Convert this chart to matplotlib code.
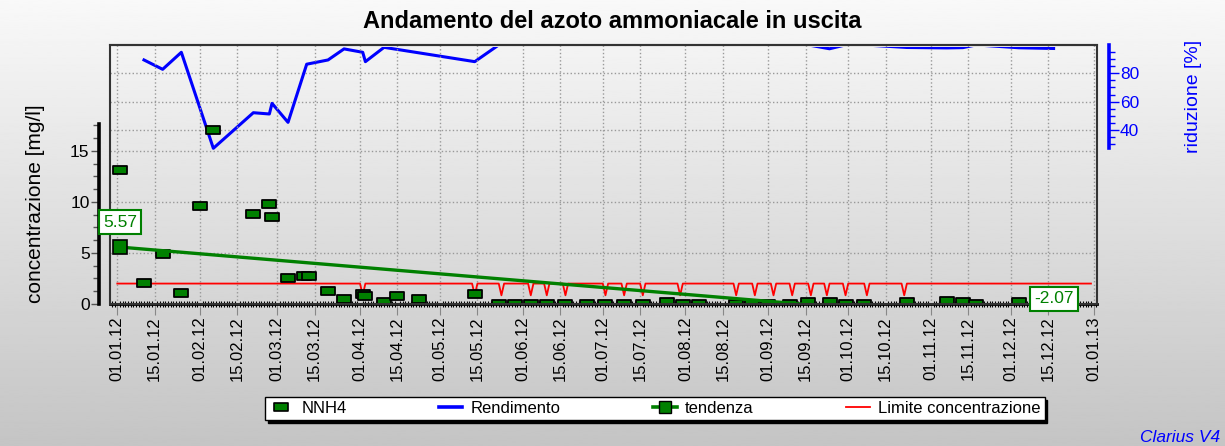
import numpy as np
import pandas as pd
import matplotlib
matplotlib.use("Agg")
import matplotlib.pyplot as plt
import matplotlib.dates as mdates
from matplotlib.path import Path
from matplotlib.patches import Rectangle
from matplotlib.lines import Line2D
from matplotlib.ticker import FixedLocator

# NNH4 outlet concentration [mg/l]
nnh4_dates = ["2012-01-02", "2012-01-11", "2012-01-18", "2012-01-25", "2012-02-01",
              "2012-02-06", "2012-02-21", "2012-02-27", "2012-02-28", "2012-03-05",
              "2012-03-11", "2012-03-13", "2012-03-20", "2012-03-26", "2012-04-02",
              "2012-04-03", "2012-04-10", "2012-04-15", "2012-04-23", "2012-05-14",
              "2012-05-23", "2012-05-29", "2012-06-04", "2012-06-10", "2012-06-17",
              "2012-06-25", "2012-07-02", "2012-07-09", "2012-07-16", "2012-07-25",
              "2012-07-31", "2012-08-06", "2012-08-20", "2012-08-26", "2012-09-01",
              "2012-09-09", "2012-09-16", "2012-09-24", "2012-09-30", "2012-10-07",
              "2012-10-23", "2012-11-07", "2012-11-13", "2012-11-18", "2012-12-04",
              "2012-12-17"]
nnh4_values = [13.1, 2.1, 4.85, 1.1, 9.6,
               17.0, 8.8, 9.75, 8.55, 2.57,
               2.74, 2.74, 1.27, 0.49, 0.98,
               0.81, 0.22, 0.81, 0.49, 0.98,
               0.0, 0.0, 0.0, 0.0, 0.0,
               0.0, 0.0, 0.0, 0.0, 0.2,
               0.0, 0.0, 0.0, 0.0, 0.0,
               0.0, 0.2, 0.2, 0.0, 0.0,
               0.2, 0.3, 0.2, 0.0, 0.15,
               0.0]

# Rendimento [%]
rend_dates = ["2012-01-11", "2012-01-18", "2012-01-25", "2012-02-06", "2012-02-21",
              "2012-02-27", "2012-02-28", "2012-03-05", "2012-03-12", "2012-03-20",
              "2012-03-26", "2012-04-02", "2012-04-03", "2012-04-10", "2012-05-14",
              "2012-05-23", "2012-05-29", "2012-06-04", "2012-06-10", "2012-06-17",
              "2012-06-25", "2012-07-02", "2012-07-09", "2012-07-16", "2012-07-25",
              "2012-07-31", "2012-08-06", "2012-08-20", "2012-08-26", "2012-09-01",
              "2012-09-09", "2012-09-16", "2012-09-24", "2012-09-30", "2012-10-07",
              "2012-10-23", "2012-11-07", "2012-11-13", "2012-11-18", "2012-12-04",
              "2012-12-17"]
rend_values = [89.4, 82.8, 94.8, 27.1, 52.2,
               51.3, 58.8, 45.4, 86.4, 89.4,
               97.2, 94.8, 88.2, 98.3, 88.2,
               100, 100, 100, 100, 100,
               100, 100, 100, 100, 100,
               100, 100, 100, 100, 100,
               100, 100, 97.3, 100, 100,
               98.2, 97.9, 98.1, 100, 98.0,
               97.5]

# tendenza (linear trend endpoints)
trend_dates = ["2012-01-02", "2012-12-17"]
trend_values = [5.57, -2.07]

# Limite concentrazione
limit_span = ["2012-01-01", "2012-12-31"]
limit_value = 2.0
limit_dip_value = 0.85
limit_dips = ["2012-04-02", "2012-05-14", "2012-05-24", "2012-06-04", "2012-06-10",
              "2012-06-17", "2012-07-02", "2012-07-09", "2012-07-16", "2012-07-30",
              "2012-08-20", "2012-08-27", "2012-09-03", "2012-09-10", "2012-09-17",
              "2012-09-23", "2012-09-30", "2012-10-08", "2012-10-22"]

plt.rcParams["font.family"] = ["Liberation Sans", "DejaVu Sans"]

W, H = 1225, 446
fig = plt.figure(figsize=(W / 100, H / 100), dpi=100)

# grey gradient background
bg = fig.add_axes([0, 0, 1, 1])
grad = np.linspace(0.975, 0.77, 256).reshape(-1, 1)
bg.imshow(grad, cmap="gray", vmin=0, vmax=1, aspect="auto", extent=[0, 1, 0, 1])
bg.axis("off")

left, right, top, bottom = 110, 1097, 44.5, 304
ax = fig.add_axes([left / W, 1 - bottom / H, (right - left) / W, (bottom - top) / H])
ax2 = ax.twinx()
ax.set_zorder(ax2.get_zorder() + 1)
ax.patch.set_visible(False)
ax2.patch.set_facecolor("white")

x0 = pd.Timestamp("2012-01-01") - pd.Timedelta(days=2.74)
x1 = pd.Timestamp("2013-01-01") + pd.Timedelta(days=1.27)
ax.set_xlim(x0, x1)
ax.set_ylim(0, 25.4)
ax2.set_ylim(-82.7, 100.3)

green = "#008000"
rect = Path([(-1, -0.55), (1, -0.55), (1, 0.55), (-1, 0.55), (-1, -0.55)],
            [Path.MOVETO, Path.LINETO, Path.LINETO, Path.LINETO, Path.CLOSEPOLY])

# limit line
lim_x = [pd.Timestamp(limit_span[0])]
lim_y = [limit_value]
for d in pd.to_datetime(limit_dips):
    lim_x += [d - pd.Timedelta(days=1), d, d + pd.Timedelta(days=1)]
    lim_y += [limit_value, limit_dip_value, limit_value]
lim_x.append(pd.Timestamp(limit_span[1]))
lim_y.append(limit_value)
ax.plot(lim_x, lim_y, color="red", lw=1.3, zorder=3)

# NNH4
ax.plot(pd.to_datetime(nnh4_dates), nnh4_values, ls="none", marker=rect, ms=10.5,
        mfc=green, mec="black", mew=1.3, zorder=4)

# trend
td = pd.to_datetime(trend_dates)
ax.plot(td, trend_values, color=green, lw=2.4, zorder=5)
ax.plot(td[:1], trend_values[:1], ls="none", marker="s", ms=9.5,
        mfc=green, mec="black", mew=1.2, zorder=6)

# Rendimento (clipped a little below the top frame, as in the original)
rline, = ax2.plot(pd.to_datetime(rend_dates), rend_values, color="blue", lw=2.2, zorder=3)
clip = Rectangle((0, 0), 1, 1 - 2.6 / (bottom - top), transform=ax2.transAxes,
                 fc="none", ec="none")
ax2.add_patch(clip)
rline.set_clip_path(clip)

# value boxes
box = dict(boxstyle="square,pad=0.25", fc="white", ec=green, lw=1.5)
ax.annotate(f"{trend_values[0]:.2f}", xy=(td[0], trend_values[0]), xytext=(0, 18),
            textcoords="offset points", ha="center", va="center", color=green,
            fontsize=12.5, bbox=box, zorder=8, annotation_clip=False)
ax.text(td[1], 0.5, f"{trend_values[1]:.2f}", ha="center", va="center", color=green,
        fontsize=12.5, bbox=box, zorder=8, clip_on=False)

# x axis
ax.xaxis.set_major_locator(mdates.DayLocator(bymonthday=[1, 15]))
ax.xaxis.set_major_formatter(mdates.DateFormatter("%d.%m.%y"))
ax.xaxis.set_minor_locator(mdates.DayLocator())
ax.tick_params(axis="x", which="major", rotation=90, labelsize=12, length=8,
               color="#888888", direction="out", pad=1)
ax.tick_params(axis="x", which="minor", length=4, width=0.8, color="black",
               direction="inout")

# left axis
ax.yaxis.set_major_locator(FixedLocator([0, 5, 10, 15]))
ax.yaxis.set_minor_locator(FixedLocator(np.arange(0, 17.6, 1.25)))
ax.tick_params(axis="y", which="major", labelsize=12.5, length=6, width=1,
               color="#555555", pad=1)
ax.tick_params(axis="y", which="minor", length=4, width=1, color="#555555")
ax.spines["left"].set_position(("outward", 7.7))
ax.spines["left"].set_bounds(0, 17.6)
ax.spines["left"].set_linewidth(2.6)
ax.spines["left"].set_color("black")
ax.spines["right"].set_visible(False)
ax.spines["top"].set_color("#333333")
ax.spines["top"].set_linewidth(1.5)
ax.spines["bottom"].set_color("black")
ax.spines["bottom"].set_linewidth(2)
ax.set_ylabel("concentrazione [mg/l]", fontsize=15)
ax.yaxis.set_label_coords(-0.066, 0.385)

# right axis
ax2.yaxis.set_major_locator(FixedLocator([40, 60, 80]))
ax2.yaxis.set_minor_locator(FixedLocator(np.arange(30, 100, 5)))
ax2.tick_params(axis="y", which="major", labelsize=12.5, length=7, width=1,
                color="blue", labelcolor="blue", pad=1)
ax2.tick_params(axis="y", which="minor", length=4, width=1, color="blue")
for s in ["left", "top", "bottom"]:
    ax2.spines[s].set_visible(False)
ax2.spines["right"].set_position(("outward", 8.4))
ax2.spines["right"].set_bounds(27, 100.3)
ax2.spines["right"].set_linewidth(2.6)
ax2.spines["right"].set_color("blue")
ax2.set_ylabel("riduzione [%]", fontsize=14, color="blue")
ax2.yaxis.set_label_coords(1.089, 0.80)

# grids
grid_kw = dict(linestyle=":", color="#999999", linewidth=1)
ax.grid(True, which="major", **grid_kw)
ax2.grid(True, axis="y", which="major", **grid_kw)

# frame of the plotting area
ax.add_patch(Rectangle((0, 0), 1, 1, transform=ax.transAxes, fill=False,
                       ec="#333333", lw=1.5, clip_on=False, zorder=7))

fig.text(0.5, 1 - 22 / H, "Andamento del azoto ammoniacale in uscita",
         ha="center", va="center", fontsize=17, fontweight="bold")

handles = [
    Line2D([], [], ls="none", marker=rect, ms=10, mfc=green, mec="black", mew=1.2),
    Line2D([], [], color="blue", lw=2.6),
    Line2D([], [], color=green, lw=2.6, marker="s", ms=8, mfc=green, mec="black"),
    Line2D([], [], color="red", lw=1.3),
]
labels = ["NNH4", "Rendimento", "tendenza", "Limite concentrazione"]
fig.legend(handles, labels, loc="center", ncol=4, mode="expand",
           bbox_to_anchor=(257 / W, 1 - 421 / H, (1053 - 257) / W, 25 / H),
           fontsize=12, handlelength=1.4, handletextpad=0.5, borderpad=0.25,
           fancybox=False, edgecolor="black", framealpha=1,
           shadow={"color": "black", "alpha": 1})

fig.text(1220 / W, 1 - 437 / H, "Clarius V4", ha="right", va="center",
         color="blue", style="italic", fontsize=12.5)

fig.savefig("out.png", dpi=100)
